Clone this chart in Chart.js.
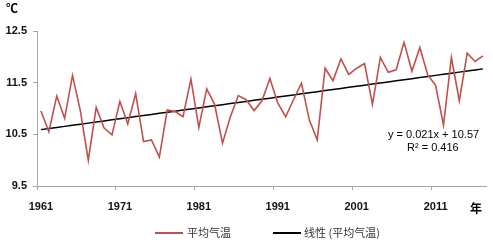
<!DOCTYPE html>
<html><head><meta charset="utf-8">
<script src="https://cdn.jsdelivr.net/npm/chart.js@4/dist/chart.umd.min.js"></script>
<style>
html,body{margin:0;padding:0;background:#fff;}
#wrap{position:relative;width:493px;height:243px;overflow:hidden;font-family:"Liberation Sans","Noto Sans CJK SC",sans-serif;color:#000;}
canvas{position:absolute;left:0;top:0;}
.t{position:absolute;font-size:11px;line-height:13px;white-space:nowrap;}
.cjk{font-family:"Noto Sans CJK SC",sans-serif;}
.leg{position:absolute;height:2px;}
</style></head>
<body><div id="wrap">
<canvas id="c" width="493" height="243"></canvas>
<div class="t cjk" style="left:6px;top:1px;font-size:12px;font-weight:bold;">℃</div>
<div class="t cjk" style="left:470px;top:201px;font-size:12px;font-weight:bold;">年</div>
<div class="t" id="eq1" style="left:388px;top:128px;"></div>
<div class="t" id="eq2" style="left:407px;top:141px;"></div>
<div class="leg" style="left:155px;top:232px;width:28px;background:#C0504D;"></div>
<div class="t cjk" style="left:187px;top:226px;color:#333;">平均气温</div>
<div class="leg" style="left:273px;top:232px;width:28px;background:#000;"></div>
<div class="t cjk" style="left:304px;top:226px;color:#333;">线性 (平均气温)</div>
</div>
<script>
const years = ["1961","1962","1963","1964","1965","1966","1967","1968","1969","1970",
"1971","1972","1973","1974","1975","1976","1977","1978","1979","1980",
"1981","1982","1983","1984","1985","1986","1987","1988","1989","1990",
"1991","1992","1993","1994","1995","1996","1997","1998","1999","2000",
"2001","2002","2003","2004","2005","2006","2007","2008","2009","2010",
"2011","2012","2013","2014","2015","2016","2017"];
const avgTemp = [10.95,10.55,11.24,10.81,11.64,10.95,10.00,11.02,10.62,10.49,
11.14,10.70,11.29,10.36,10.39,10.06,10.97,10.94,10.84,11.57,
10.63,11.38,11.08,10.33,10.84,11.25,11.17,10.96,11.15,11.58,
11.11,10.84,11.17,11.49,10.78,10.39,11.78,11.54,11.96,11.66,
11.78,11.87,11.08,11.99,11.70,11.75,12.28,11.72,12.18,11.65,
11.45,10.68,11.99,11.15,12.07,11.91,12.02];
const trendSlope = 0.021;
const trendIntercept = 10.57;
const trendR2 = 0.416;
const yTicks = [9.5,10.5,11.5,12.5];
const seriesNames = ["平均气温","线性 (平均气温)"];

document.getElementById('eq1').textContent = "y = " + trendSlope + "x + " + trendIntercept;
document.getElementById('eq2').textContent = "R² = " + trendR2;

const trend = years.map((_, i) => trendSlope * (i + 1) + trendIntercept);
const axisGray = '#A6A6A6';
const PLOT_LEFT = 37, PLOT_TOP = 31, PLOT_BOTTOM = 186, PLOT_RIGHT = 489.6;

new Chart(document.getElementById('c'), {
  type: 'line',
  data: {
    labels: years,
    datasets: [
      {label: seriesNames[0], data: avgTemp, borderColor: '#C0504D', borderWidth: 1.6, pointRadius: 0, tension: 0, fill: false},
      {label: seriesNames[1], data: trend, borderColor: '#000000', borderWidth: 1.5, pointRadius: 0, tension: 0, fill: false}
    ]
  },
  options: {
    responsive: false,
    animation: false,
    devicePixelRatio: 1,
    layout: {padding: {left: 0, top: PLOT_TOP, right: 493 - PLOT_RIGHT, bottom: 0}},
    plugins: {legend: {display: false}, tooltip: {enabled: false}},
    scales: {
      x: {
        type: 'category',
        offset: true,
        afterFit: s => { s.height = 243 - PLOT_BOTTOM; },
        grid: {
          offset: true,
          drawOnChartArea: false,
          drawTicks: true,
          tickLength: 4,
          color: ctx => (ctx.index % 10 === 0 ? axisGray : 'rgba(0,0,0,0)')
        },
        border: {display: true, color: axisGray, width: 1},
        ticks: {
          autoSkip: false,
          maxRotation: 0,
          padding: 10,
          color: '#111',
          font: {family: 'Liberation Sans', size: 11, weight: 'bold'},
          callback: (v, i) => (i % 10 === 0 ? years[i] : '')
        }
      },
      y: {
        min: 9.5, max: 12.5,
        afterFit: s => { s.width = PLOT_LEFT; },
        afterBuildTicks: s => { s.ticks = yTicks.map(v => ({value: v})); },
        grid: {drawOnChartArea: false, drawTicks: true, tickLength: 4, color: axisGray},
        border: {display: true, color: axisGray, width: 1},
        ticks: {
          padding: 6,
          color: '#111',
          font: {family: 'Liberation Sans', size: 11, weight: 'bold'},
          callback: v => Number(v).toFixed(1)
        }
      }
    }
  }
});
</script>
</body></html>
